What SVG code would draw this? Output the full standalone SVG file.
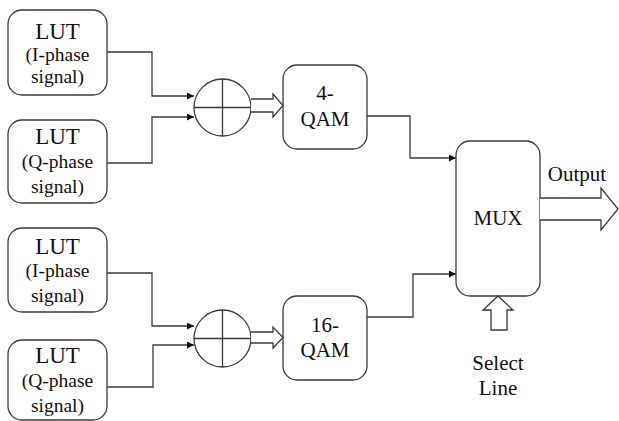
<svg xmlns="http://www.w3.org/2000/svg" width="619" height="421" viewBox="0 0 619 421" font-family="Liberation Serif, Times New Roman, serif">
<defs>
<style>
.box{fill:#fff;stroke:#3a3a3a;stroke-width:1.3}
.ln{fill:none;stroke:#3a3a3a;stroke-width:1.3}
.ha{fill:#fff;stroke:#3a3a3a;stroke-width:1.3;stroke-linejoin:miter}
</style>
<marker id="ah" viewBox="0 0 10 10" refX="10" refY="5" markerWidth="8" markerHeight="7" markerUnits="userSpaceOnUse" orient="auto">
<path d="M0,0 L10,5 L0,10 Z" fill="#111"/>
</marker>
</defs>

<g id="lut1">
<rect class="box" x="8" y="10" width="99" height="85" rx="14"/>
<g font-size="19.5" fill="#111" text-anchor="middle">
<text x="57.5" y="39" font-size="23">LUT</text>
<text x="57.5" y="61">(I-phase</text>
<text x="57.5" y="83">signal)</text>
</g>
</g>
<g id="lut2">
<rect class="box" x="8" y="120" width="99" height="83" rx="14"/>
<g font-size="19.5" fill="#111" text-anchor="middle">
<text x="57.5" y="144" font-size="23">LUT</text>
<text x="57.5" y="168">(Q-phase</text>
<text x="57.5" y="193">signal)</text>
</g>
</g>
<g id="lut3">
<rect class="box" x="8" y="228" width="99" height="84" rx="14"/>
<g font-size="19.5" fill="#111" text-anchor="middle">
<text x="57.5" y="254" font-size="23">LUT</text>
<text x="57.5" y="277">(I-phase</text>
<text x="57.5" y="302">signal)</text>
</g>
</g>
<g id="lut4">
<rect class="box" x="8" y="340" width="99" height="80" rx="14"/>
<g font-size="19.5" fill="#111" text-anchor="middle">
<text x="57.5" y="363" font-size="23">LUT</text>
<text x="57.5" y="387">(Q-phase</text>
<text x="57.5" y="412">signal)</text>
</g>
</g>

<g id="sum1">
<circle class="box" cx="222.5" cy="107.5" r="28.5"/>
<path class="ln" d="M194,107.5 H251 M222.5,79 V136"/>
</g>
<g id="sum2">
<circle class="box" cx="222.5" cy="338.5" r="28.5"/>
<path class="ln" d="M194,338.5 H251 M222.5,310 V367"/>
</g>

<g id="qam4">
<rect class="box" x="283" y="65" width="84" height="84" rx="14"/>
<g font-size="21" fill="#111" text-anchor="middle">
<text x="325" y="100">4-</text>
<text x="325" y="126">QAM</text>
</g>
</g>
<g id="qam16">
<rect class="box" x="283" y="296" width="84" height="84" rx="14"/>
<g font-size="21" fill="#111" text-anchor="middle">
<text x="325" y="332">16-</text>
<text x="325" y="357">QAM</text>
</g>
</g>

<g id="mux">
<rect class="box" x="456" y="141" width="84" height="155" rx="14"/>
<text x="498" y="225" font-size="21" fill="#111" text-anchor="middle">MUX</text>
</g>

<g id="output">
<text x="577" y="181" font-size="21" fill="#111" text-anchor="middle">Output</text>
</g>
<g id="select">
<g font-size="21" fill="#111" text-anchor="middle">
<text x="498" y="370">Select</text>
<text x="498" y="395">Line</text>
</g>
</g>

<g id="connectors">
<path class="ln" d="M107,52 H152 V96 H194" marker-end="url(#ah)"/>
<path class="ln" d="M107,163 H152 V117 H194" marker-end="url(#ah)"/>
<path class="ln" d="M107,273 H152 V326 H194" marker-end="url(#ah)"/>
<path class="ln" d="M107,387 H153 V345 H194" marker-end="url(#ah)"/>
<path class="ln" d="M367,116 H410 V158 H456" marker-end="url(#ah)"/>
<path class="ln" d="M367,317 H413 V274 H456" marker-end="url(#ah)"/>
<path class="ha" d="M251,99 H273 V94 L283,105.5 L273,117 V112 H251"/>
<path class="ha" d="M251,332 H273 V327 L283,337.5 L273,348 V343 H251"/>
<path class="ha" d="M540,198 H601 V188 L618,209 L601,230 V220 H540"/>
<path class="ha" d="M498,296 L513,310 H507 V330 H491 V310 H483 Z"/>
</g>
</svg>
